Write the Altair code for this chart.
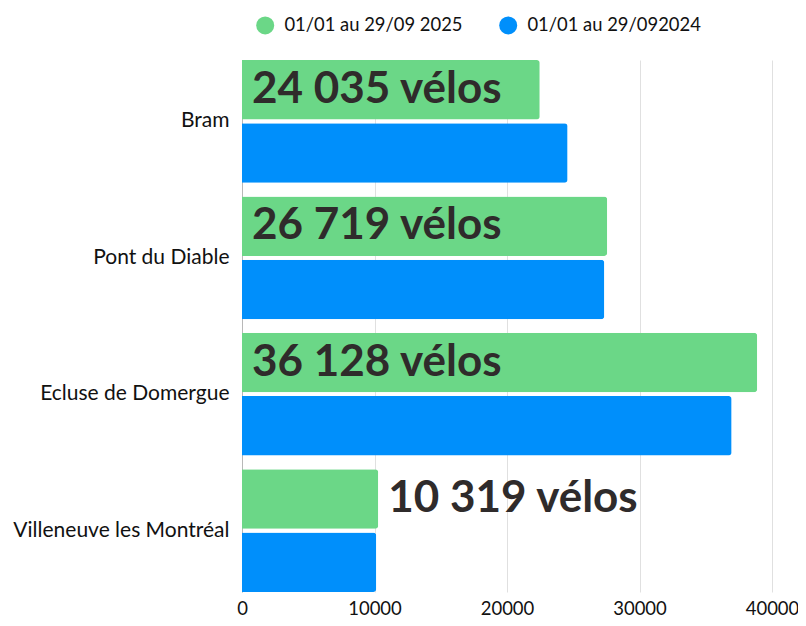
import altair as alt
import pandas as pd

sites = ["Bram", "Pont du Diable", "Ecluse de Domergue", "Villeneuve les Montréal"]
series = ["01/01 au 29/09 2025", "01/01 au 29/092024"]
values_2025 = [22470, 27560, 38880, 10280]
values_2024 = [24570, 27340, 36950, 10130]
labels_2025 = ["24 035 vélos", "26 719 vélos", "36 128 vélos", "10 319 vélos"]
label_inside = [True, True, True, False]
x_ticks = [0, 10000, 20000, 30000, 40000]
colors = ["#6BD787", "#008FFB"]

rows = []
for s, a, b in zip(sites, values_2025, values_2024):
    rows.append({"site": s, "serie": series[0], "value": a})
    rows.append({"site": s, "serie": series[1], "value": b})
bars_df = pd.DataFrame(rows)
labels_df = pd.DataFrame({
    "site": sites,
    "serie": [series[0]] * len(sites),
    "value": values_2025,
    "label": labels_2025,
    "inside": label_inside,
})

x_scale = alt.Scale(domain=[0, 40000], nice=False)

y_enc = alt.Y(
    "site:N", sort=sites,
    scale=alt.Scale(paddingInner=0.1, paddingOuter=0.0),
    axis=alt.Axis(title=None, labelFont="Lato", labelFontSize=21, labelColor="#111",
                  labelPadding=13, ticks=False, domain=True, domainColor="#b8b8b8",
                  labelLimit=300),
)
yoff = alt.YOffset("serie:N", sort=series, scale=alt.Scale(paddingInner=0.06))

bars = alt.Chart(bars_df).mark_bar(cornerRadiusEnd=3).encode(
    x=alt.X("value:Q", scale=x_scale,
            axis=alt.Axis(values=x_ticks, title=None, format="d", grid=True,
                          gridColor="#e0e0e0", domain=False, ticks=False,
                          labelFont="Lato", labelFontSize=18.5, labelColor="#111",
                          labelPadding=7, labelFlush=False)),
    y=y_enc,
    yOffset=yoff,
    color=alt.Color("serie:N", sort=series,
                    scale=alt.Scale(domain=series, range=colors),
                    legend=alt.Legend(title=None, orient="none", legendX=14, legendY=-44,
                                      direction="horizontal", symbolType="circle",
                                      symbolSize=324, symbolStrokeWidth=0,
                                      labelFont="Lato", labelFontSize=18.4,
                                      labelColor="#111", labelOffset=10,
                                      labelLimit=400, columnPadding=36)),
)

text = alt.Chart(labels_df).transform_calculate(
    xpos="datum.inside ? 0 : datum.value"
).mark_text(
    align="left", baseline="middle", dx=10, dy=0, font="Lato", fontSize=44,
    fontWeight="bold", color="#2f2b2b"
).encode(
    x=alt.X("xpos:Q", scale=x_scale),
    y=alt.Y("site:N", sort=sites),
    yOffset=alt.YOffset("serie:N", sort=series),
    text="label:N",
)

chart = alt.layer(bars, text).properties(
    width=530, height=532,
    autosize=alt.AutoSizeParams(type="none"),
    padding={"left": 234, "top": 52, "right": 26, "bottom": 26},
).configure_view(stroke=None)

chart.save("out.html", embed_options={"renderer": "svg", "actions": False})
